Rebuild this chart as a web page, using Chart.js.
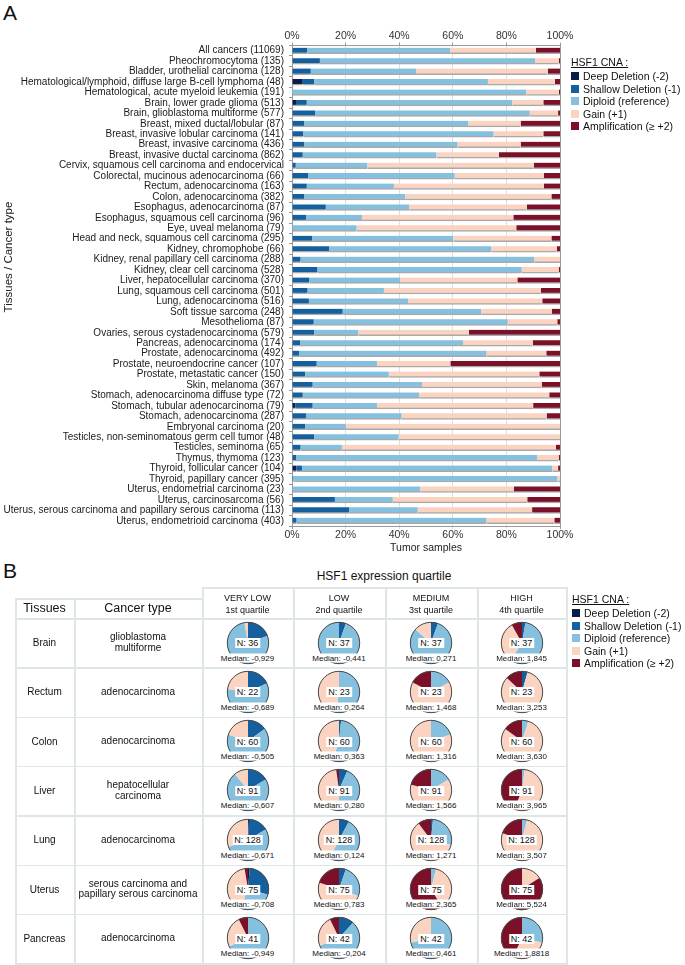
<!DOCTYPE html>
<html><head><meta charset="utf-8">
<script src="https://cdn.jsdelivr.net/npm/chart.js@4.4.0/dist/chart.umd.min.js"></script>
<style>
body{margin:0;width:685px;height:965px;position:relative;background:#fff;font-family:"Liberation Sans",Arial,sans-serif;color:#111;overflow:hidden}
.abs{position:absolute}
.panel{font-size:21px;line-height:22px}
.leg{font-size:10.5px;line-height:12px;white-space:nowrap}
.leg .sw{position:absolute;width:8px;height:8px;left:0;top:2px}
.leg .tx{position:absolute;left:12px;top:0}
.hl{position:absolute;height:1.5px;background:#dfe6e6}
.vl{position:absolute;width:1.5px;background:#dfe6e6}
.cell{position:absolute;display:flex;align-items:center;justify-content:center;text-align:center;flex-direction:column}
.nlab{position:absolute;background:#fff;font-size:9px;line-height:10px;padding:0 2px;transform:translate(-50%,-50%);white-space:nowrap}
.mlab{position:absolute;background:#fff;font-size:8px;line-height:9px;padding:0 1px;transform:translate(-50%,-50%);white-space:nowrap}
</style></head><body>

<div class="abs panel" style="left:3px;top:2px">A</div>
<div class="abs panel" style="left:3px;top:560px">B</div>
<canvas id="bar" width="585" height="556" class="abs" style="left:0;top:0"></canvas>
<div class="abs" style="left:8px;top:257px;transform:translate(-50%,-50%) rotate(-90deg);font-size:11.5px;white-space:nowrap;color:#222">Tissues / Cancer type</div>
<div id="legA" class="abs" style="left:571px;top:56px;width:120px;height:80px"></div>
<div id="tableB"></div>
<div id="legB" class="abs" style="left:572px;top:593px;width:120px;height:80px"></div>

<script>
const cnaLabels = ['Deep Deletion (-2)','Shallow Deletion (-1)','Diploid (reference)','Gain (+1)','Amplification (\u2265 +2)'];
const cnaColors = ['#0a1d4a','#14609f','#86c0df','#fbd3c1','#7c1028'];

const categories = [
 'All cancers (11069)','Pheochromocytoma (135)','Bladder, urothelial carcinoma (128)',
 'Hematological/lymphoid, diffuse large B-cell lymphoma (48)','Hematological, acute myeloid leukemia (191)',
 'Brain, lower grade glioma (513)','Brain, glioblastoma multiforme (577)','Breast, mixed ductal/lobular (87)',
 'Breast, invasive lobular carcinoma (141)','Breast, invasive carcinoma (436)','Breast, invasive ductal carcinoma (862)',
 'Cervix, squamous cell carcinoma and endocervical','Colorectal, mucinous adenocarcinoma (66)','Rectum, adenocarcinoma (163)',
 'Colon, adenocarcinoma (382)','Esophagus, adenocarcinoma (87)','Esophagus, squamous cell carcinoma (96)',
 'Eye, uveal melanoma (79)','Head and neck, squamous cell carcinoma (295)','Kidney, chromophobe (66)',
 'Kidney, renal papillary cell carcinoma (288)','Kidney, clear cell carcinoma (528)','Liver, hepatocellular carcinoma (370)',
 'Lung, squamous cell carcinoma (501)','Lung, adenocarcinoma (516)','Soft tissue sarcoma (248)','Mesothelioma (87)',
 'Ovaries, serous cystadenocarcinoma (579)','Pancreas, adenocarcinoma (174)','Prostate, adenocarcinoma (492)',
 'Prostate, neuroendocrine cancer (107)','Prostate, metastatic cancer (150)','Skin, melanoma (367)',
 'Stomach, adenocarcinoma diffuse type (72)','Stomach, tubular adenocarcinoma (79)','Stomach, adenocarcinoma (287)',
 'Embryonal carcinoma (20)','Testicles, non-seminomatous germ cell tumor (48)','Testicles, seminoma (65)',
 'Thymus, thymoma (123)','Thyroid, follicular cancer (104)','Thyroid, papillary cancer (395)',
 'Uterus, endometrial carcinoma (23)','Uterus, carcinosarcoma (56)',
 'Uterus, serous carcinoma and papillary serous carcinoma (113)','Uterus, endometrioid carcinoma (403)'
];
const deepDeletion = [0,0,0,4,0,1.5,0,0,0,0,0,0,0,0,0,0,0,0,0,0,0,0,0,0,0,0,0,0,0,0,0,0,0,0,1.2,0,0,0,0,0,1.7,0,0,0,0,0];
const shallowDeletion = [5.7,10.4,7,4.3,0,4,8.6,4.5,4.2,4.5,4,1.4,6.1,5.5,4.5,12.6,5.2,0,7.5,13.8,3.2,9.5,6.5,5.8,6.3,18.9,8.1,8.3,3,2.6,9.2,4.9,7.7,4,6.5,5.2,4.9,8.3,3.2,1.5,2,0.5,0,16,21.3,1.7];
const diploid = [53.3,80.3,39.3,64.8,87.4,76.7,80.1,61.2,71,57.3,49.9,26.7,54.6,32.5,37.7,31.1,20.9,24.1,52.7,60.6,87.2,76.2,33.8,28.5,37,51.7,72.4,16.5,60.8,70,22.5,31.2,40.8,43.4,24,35.7,15.2,31.5,15.4,89.9,93.4,98.5,47.8,21.6,25.6,70.9];
const gain = [32,8.8,49.1,25,12.2,11.6,10.6,19.6,18.6,23.5,23.3,62.1,33.3,56,54.6,43.9,56.5,59.6,36.6,24.4,9.6,13.8,43.8,58.5,50.1,26.4,18.5,41.2,26,22.3,27.4,56.2,44.7,48.6,58.3,54.1,79.9,60.2,79.9,8.1,2.2,1,35,50.2,42.7,25.3];
const amplification = [9,0.5,4.6,1.9,0.4,6.2,0.7,14.7,6.2,14.7,22.8,9.8,6,6,3.2,12.4,17.4,16.3,3.2,1.2,0,0.5,15.9,7.2,6.6,3,1,34,10.2,5.1,40.9,7.7,6.8,4,10,5,0,0,1.5,0.5,0.7,0,17.2,12.2,10.4,2.1];
const xTicks = [0,20,40,60,80,100];

// Part B data
const pieTissues = ['Brain','Rectum','Colon','Liver','Lung','Uterus','Pancreas'];
const pieCancerTypes = [['glioblastoma','multiforme'],['adenocarcinoma'],['adenocarcinoma'],['hepatocellular','carcinoma'],['adenocarcinoma'],['serous carcinoma  and','papillary serous carcinoma'],['adenocarcinoma']];
const quartileNames = ['VERY LOW','LOW','MEDIUM','HIGH'];
const quartileSubs = ['1st quartile','2nd quartile','3st quartile','4th quartile'];
const pieN = [[36,37,37,37],[22,23,23,23],[60,60,60,60],[91,91,91,91],[128,128,128,128],[75,75,75,75],[41,42,42,42]];
const pieMedian = [['-0,929','-0,441','0,271','1,845'],['-0,689','0,264','1,468','3,253'],['-0,505','0,363','1,316','3,630'],['-0,607','0,280','1,566','3,965'],['-0,671','0,124','1,271','3,507'],['-0,708','0,783','2,365','5,524'],['-0,949','-0,204','0,461','1,8818']];
// counts per quartile: [deep, shallow, diploid, gain, amplification]
const brainCNA    = [[0,7,28,1,0],[0,2,35,0,0],[0,2,30,5,0],[0,1,21,12,3]];
const rectumCNA   = [[0,4,13,5,0],[0,0,12,11,0],[0,0,4,15,4],[0,1,0,19,3]];
const colonCNA    = [[0,9,39,12,0],[0,1,32,27,0],[0,0,12,48,0],[0,0,3,48,9]];
const liverCNA    = [[0,15,66,10,0],[0,6,40,43,2],[0,0,15,57,19],[0,0,2,49,40]];
const lungCNA     = [[1,20,68,39,0],[0,10,64,54,0],[0,2,35,78,13],[0,0,5,98,25]];
const uterusCNA   = [[1,21,20,31,2],[0,4,19,37,15],[0,0,3,28,44],[0,0,0,12,63]];
const pancreasCNA = [[0,0,28,10,3],[0,5,24,10,3],[0,0,30,12,0],[0,0,12,12,18]];
const pieCNA = [brainCNA,rectumCNA,colonCNA,liverCNA,lungCNA,uterusCNA,pancreasCNA];

Chart.defaults.font.family = '"Liberation Sans", Arial, sans-serif';
Chart.defaults.color = '#222';

function noPad(s){ s.paddingLeft = 0; s.paddingRight = 0; s.paddingTop = 0; s.paddingBottom = 0; }

// ---------- Part A ----------
const seriesValues = [deepDeletion, shallowDeletion, diploid, gain, amplification];
new Chart(document.getElementById('bar'), {
  type: 'bar',
  data: {
    labels: categories,
    datasets: seriesValues.map((vals, i) => ({
      label: cnaLabels[i], data: vals, backgroundColor: cnaColors[i],
      borderColor: '#a9a9a9', borderWidth: {top:0,right:0,bottom:1.5,left:0}, borderSkipped: false,
      barThickness: 6
    }))
  },
  options: {
    indexAxis: 'y', responsive: false, animation: false, events: [],
    layout: {padding: {left:0, right:25, top:0, bottom:0}},
    plugins: {legend: {display:false}, tooltip: {enabled:false}},
    scales: {
      y: {
        stacked: true,
        afterFit(s){ s.width = 292; noPad(s); },
        grid: {drawOnChartArea:false, drawTicks:true, tickLength:3, color:'#999'},
        border: {color:'#999'},
        ticks: {font:{size:10}, color:'#1a1a1a', padding:5, autoSkip:false}
      },
      x: {
        stacked: true, min: 0, max: 100, position: 'bottom',
        afterFit(s){ s.height = 30; noPad(s); },
        afterBuildTicks(s){ s.ticks = xTicks.map(v => ({value:v})); },
        grid: {color: c => (c.tick && (c.tick.value === 0 || c.tick.value === 100)) ? '#999' : '#dedede', tickLength:3},
        border: {color:'#999'},
        ticks: {font:{size:10.5}, color:'#333', padding:0, callback: v => v + '%'},
        title: {display:true, text:'Tumor samples', font:{size:10.5}, color:'#222', padding:{top:0,bottom:2}}
      },
      x2: {
        type: 'linear', min: 0, max: 100, position: 'top',
        afterFit(s){ s.height = 45.5; noPad(s); },
        afterBuildTicks(s){ s.ticks = xTicks.map(v => ({value:v})); },
        grid: {drawOnChartArea:false, tickLength:3, color:'#999'},
        border: {color:'#999'},
        ticks: {font:{size:10.5}, color:'#333', padding:0, callback: v => v + '%'}
      }
    }
  }
});

function buildLegend(el){
  let h = '<div class="leg" style="position:absolute;left:0;top:0;text-decoration:underline">HSF1 CNA :</div>';
  cnaLabels.forEach((l,i)=>{
    const top = 14 + i*12.6;
    h += `<div class="leg" style="position:absolute;left:0;top:${top}px;width:130px;height:12px"><span class="sw" style="background:${cnaColors[i]}"></span><span class="tx">${l}</span></div>`;
  });
  el.innerHTML = h;
}
buildLegend(document.getElementById('legA'));
buildLegend(document.getElementById('legB'));

// ---------- Part B ----------
const tb = document.getElementById('tableB');
const colX = [15, 74, 202, 293, 385, 477, 566];
const headTopQ = 587, headTopT = 598, headBot = 618, rowH = 49.3;
let html = '';
html += `<div class="abs" style="left:${(202+566)/2}px;top:576px;transform:translate(-50%,-50%);font-size:12px;white-space:nowrap;color:#111">HSF1 expression quartile</div>`;
const bottomY = headBot + rowH*7;
html += `<div class="hl" style="left:202px;width:365px;top:${headTopQ}px"></div>`;
html += `<div class="hl" style="left:15px;width:188px;top:${headTopT}px"></div>`;
for (let r=0;r<=7;r++){ const y = headBot + r*rowH; html += `<div class="hl" style="left:15px;width:552px;top:${y}px"></div>`; }
[0,1].forEach(c=>{ html += `<div class="vl" style="left:${colX[c]}px;top:${headTopT}px;height:${bottomY-headTopT+1.5}px"></div>`; });
[2,3,4,5,6].forEach(c=>{ html += `<div class="vl" style="left:${colX[c]}px;top:${headTopQ}px;height:${bottomY-headTopQ+1.5}px"></div>`; });
html += `<div class="cell" style="left:15px;width:59px;top:${headTopT}px;height:${headBot-headTopT}px;font-size:12.5px">Tissues</div>`;
html += `<div class="cell" style="left:74px;width:128px;top:${headTopT}px;height:${headBot-headTopT}px;font-size:12.5px">Cancer type</div>`;
quartileNames.forEach((q,i)=>{
  html += `<div class="cell" style="left:${colX[i+2]}px;width:${colX[i+3]-colX[i+2]}px;top:${headTopQ+3}px;height:28px;font-size:9px;line-height:12.5px">${q}<br>${quartileSubs[i]}</div>`;
});
pieTissues.forEach((t,r)=>{
  const top = headBot + r*rowH;
  html += `<div class="cell" style="left:15px;width:59px;top:${top}px;height:${rowH}px;font-size:10px">${t}</div>`;
  html += `<div class="cell" style="left:74px;width:128px;top:${top}px;height:${rowH}px;font-size:10px;line-height:10.5px">${pieCancerTypes[r].join('<br>')}</div>`;
  for (let q=0;q<4;q++){
    const cx = (colX[q+2]+colX[q+3])/2, cy = top + 24.5;
    html += `<canvas id="pie_${r}_${q}" width="46" height="46" class="abs" style="left:${cx-23}px;top:${cy-23}px"></canvas>`;
    html += `<div class="nlab" style="left:${cx}px;top:${top+25}px">N: ${pieN[r][q]}</div>`;
    html += `<div class="mlab" style="left:${cx}px;top:${top+39.5}px">Median: ${pieMedian[r][q]}</div>`;
  }
});
tb.innerHTML = html;

const outline = {id:'outline', afterDatasetsDraw(chart){
  const arc = chart.getDatasetMeta(0).data[0]; if(!arc) return;
  const ctx = chart.ctx; ctx.save(); ctx.beginPath();
  ctx.arc(arc.x, arc.y, arc.outerRadius - 0.3, 0, Math.PI*2);
  ctx.strokeStyle = '#4a4a4a'; ctx.lineWidth = 1; ctx.stroke(); ctx.restore();
}};
pieCNA.forEach((rows,r)=>rows.forEach((counts,q)=>{
  new Chart(document.getElementById(`pie_${r}_${q}`), {
    type:'pie',
    data:{labels:cnaLabels, datasets:[{data:counts, backgroundColor:cnaColors, borderWidth:0}]},
    options:{responsive:false, animation:false, events:[], layout:{padding:2},
      plugins:{legend:{display:false}, tooltip:{enabled:false}}},
    plugins:[outline]
  });
}));
</script>
</body></html>
